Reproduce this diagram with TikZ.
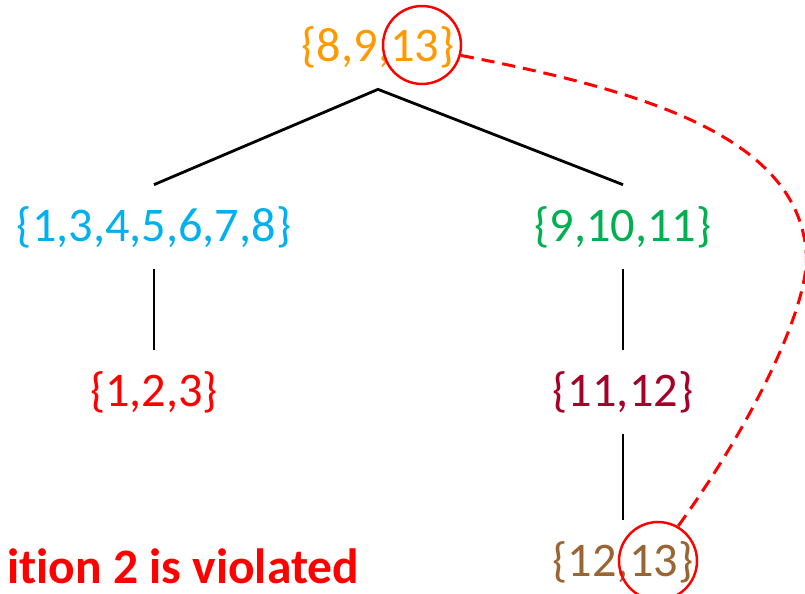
\documentclass[tikz,border=0pt]{standalone}
\usepackage{fontspec}
\setmainfont[Ligatures={NoCommon}]{Carlito}
\usepackage{tikz}
\usetikzlibrary{positioning, calc}
\definecolor{setOrange}{RGB}{255,153,0}
\definecolor{setCyan}{RGB}{0,176,240}
\definecolor{setGreen}{RGB}{0,176,80}
\definecolor{setRed}{RGB}{255,0,0}
\definecolor{setCrimson}{RGB}{165,0,40}
\definecolor{setBrown}{RGB}{153,102,51}
\newcommand{\setFontSize}{\fontsize{27.5}{32}\selectfont}
\newcommand{\noteFontSize}{\fontsize{28.2}{32}\selectfont}
\tikzstyle{bag}=[inner sep=0pt, minimum height=1.68cm, font=\setFontSize]
\tikzstyle{edge}=[line width=1.6pt]
\tikzstyle{mark ring}=[circle, draw=setRed, line width=1.4pt, minimum size=1.56cm, inner sep=0pt]
\tikzstyle{link}=[draw=setRed, line width=1.7pt, dash pattern=on 7.5pt off 4.5pt]

\begin{document}
\begin{tikzpicture}[x=0.02cm, y=-0.02cm]
    \useasboundingbox (0,0) rectangle (805,593);
    % the bags of the tree
    \node[bag, text=setOrange] (root) at (378,47) {\{8,9,13\}};
    \node[bag, text=setCyan] (left) at (154,227) {\{1,3,4,5,6,7,8\}};
    \node[bag, text=setGreen] (right) at (623,227) {\{9,10,11\}};
    \node[bag, text=setRed] (leftLeaf) at (154,392) {\{1,2,3\}};
    \node[bag, text=setCrimson] (rightMid) at (623,392) {\{11,12\}};
    \node[bag, text=setBrown] (rightLeaf) at (623,562) {\{12,13\}};
    % tree edges
    \draw[edge] (left.north) -- (root.south) -- (right.north);
    \draw[edge] (left.south) -- (leftLeaf.north);
    \draw[edge] (right.south) -- (rightMid.north);
    \draw[edge] (rightMid.south) -- (rightLeaf.north);
    % the two occurrences of 13
    \node[mark ring] (ringTop) at (422,45) {};
    \node[mark ring] (ringBottom) at (658,561) {};
    \draw[link] (ringTop.-15) .. controls (640,90) and (795,135) .. (806,250)
        .. controls (812,300) and (755,420) .. (ringBottom.60);
    \node[anchor=base west, text=setRed, font=\noteFontSize\bfseries] (note) at (1,583) {ition 2 is violated};
\end{tikzpicture}
\end{document}
